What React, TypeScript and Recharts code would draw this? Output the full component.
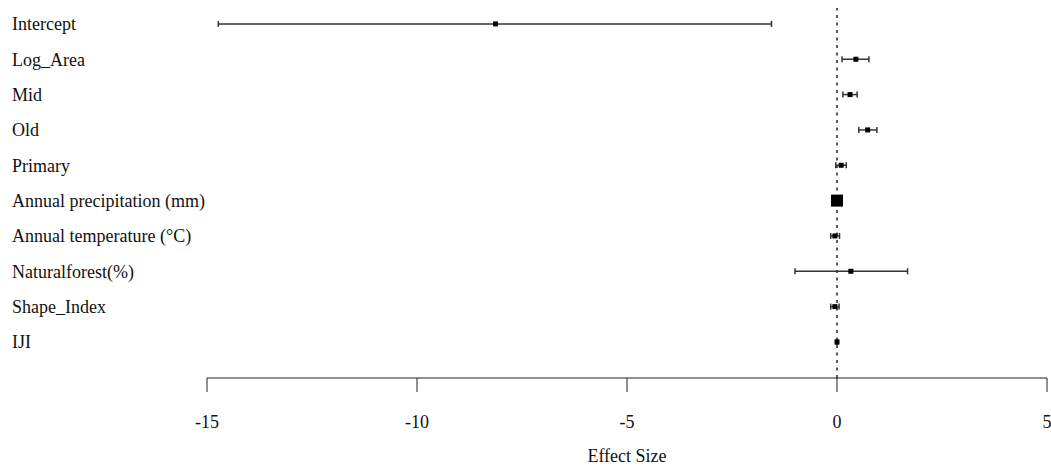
import { ScatterChart, Scatter, XAxis, YAxis, ErrorBar, ReferenceLine } from 'recharts'

const terms = [
  'Intercept',
  'Log_Area',
  'Mid',
  'Old',
  'Primary',
  'Annual precipitation (mm)',
  'Annual temperature (°C)',
  'Naturalforest(%)',
  'Shape_Index',
  'IJI',
]
const estimate = [-8.13, 0.45, 0.31, 0.73, 0.1, 0.0, -0.05, 0.33, -0.05, 0.0]
const lower = [-14.73, 0.12, 0.14, 0.52, -0.03, -0.02, -0.15, -1.0, -0.15, -0.02]
const upper = [-1.56, 0.76, 0.48, 0.95, 0.22, 0.02, 0.06, 1.68, 0.05, 0.02]
// relative weight of each estimate (drawn as square size)
const weight = [1, 1, 1, 1, 1, 6, 1, 1, 1, 1]
const xTicks = [-15, -10, -5, 0, 5]

const rows = terms.map((t, i) => ({
  term: t,
  row: i,
  est: estimate[i],
  err: [estimate[i] - lower[i], upper[i] - estimate[i]],
  w: weight[i],
}))

const font = '"Liberation Serif", "Times New Roman", serif'

function Square(props: any) {
  const { cx, cy, payload } = props
  const s = payload.w > 1 ? 12 : 5
  return <rect x={cx - s / 2} y={cy - s / 2} width={s} height={s} fill="#000" />
}

function TermTick(props: any) {
  const { y, payload } = props
  return (
    <text x={12} y={y} dy="0.35em" textAnchor="start" fontSize={18} fill="#111" fontFamily={font}>
      {terms[payload.value]}
    </text>
  )
}

export default function App() {
  return (
    <div style={{ position: 'absolute', left: 0, top: 0, background: '#fff', width: 1051, height: 471 }}>
      <ScatterChart width={1051} height={471} margin={{ top: 8, right: 4, bottom: 0, left: 0 }}>
        <XAxis
          type="number"
          dataKey="est"
          domain={[-15, 5]}
          ticks={xTicks}
          interval={0}
          allowDataOverflow
          height={93}
          tickSize={14}
          tickMargin={23}
          stroke="#222"
          tick={{ fill: '#111', fontSize: 18, fontFamily: font }}
          label={{ value: 'Effect Size', position: 'insideBottom', offset: 9, fill: '#111', fontSize: 18, fontFamily: font }}
        />
        <YAxis
          type="number"
          dataKey="row"
          reversed
          domain={[-0.45, 10.02]}
          ticks={terms.map((_, i) => i)}
          interval={0}
          allowDataOverflow
          width={207}
          axisLine={false}
          tickLine={false}
          tick={<TermTick />}
        />
        <ReferenceLine x={0} stroke="#222" strokeWidth={1.5} strokeDasharray="3 4.5" />
        <Scatter data={rows} shape={<Square />} isAnimationActive={false}>
          <ErrorBar dataKey="err" direction="x" width={3} stroke="#333" strokeWidth={1.5} />
        </Scatter>
      </ScatterChart>
    </div>
  )
}
